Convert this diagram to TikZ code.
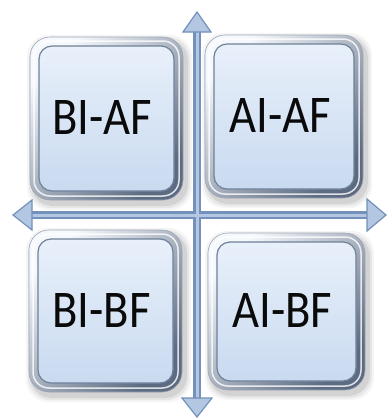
\documentclass[tikz,border=0pt]{standalone}
\usepackage{fontspec}
\setmainfont{Carlito}
\usetikzlibrary{calc}
\definecolor{axedge}{HTML}{7391BB}
\definecolor{axmid}{HTML}{B3C7E2}
\definecolor{bezlight}{HTML}{F5F8FC}
\definecolor{bezdark}{HTML}{5C6B82}
\definecolor{facetop}{HTML}{E8F0FA}
\definecolor{facebot}{HTML}{C9DAF0}
\definecolor{faceedge}{HTML}{6F8199}
\definecolor{txt}{HTML}{0A0A0A}
\tikzset{
  lbl/.style={text=txt, font=\fontsize{53}{53}\selectfont, inner sep=0pt},
  bezel/.style={rounded corners=20pt, top color=bezlight, bottom color=bezdark, shading angle=45, draw=bezdark!60, line width=0.6pt},
  face/.style={rounded corners=13pt, top color=facetop, bottom color=facebot, draw=faceedge, line width=1.2pt},
  shaftout/.style={axedge, line width=8pt},
  shaftin/.style={axmid, line width=3pt},
  axhead/.style={fill=axmid, draw=axedge, line width=1.2pt, line join=miter}
}
\newcommand\quadbox[6]{%
  \foreach \s/\o in {6/0.04,4/0.06,2/0.08}{%
    \fill[black,opacity=\o,rounded corners=22pt] ({#2+3-\s},{#3+4-\s}) rectangle ({#4+3+\s},{#5+4+\s});
  }
  \shade[bezel] (#2,#3) rectangle (#4,#5);
  \draw[white, line width=1.5pt, rounded corners=16pt, opacity=0.8] ({#2+4},{#3+4}) rectangle ({#4-4},{#5-4});
  \shade[face] ({#2+9},{#3+9}) rectangle ({#4-9},{#5-9});
  \node[lbl] (#1) at ({(#2+#4)/2-4},{(#3+#5)/2-1}) {\scalebox{0.88}[1]{#6}};
}
\begin{document}
\begin{tikzpicture}[x=1pt,y=-1pt]
\useasboundingbox (0,0) rectangle (386,418);
\fill[white] (0,0) rectangle (386,418);
\quadbox{biaf}{30}{37}{183}{200}{BI-AF}
\quadbox{aiaf}{205}{35}{363}{198}{AI-AF}
\quadbox{bibf}{29}{230}{182}{392}{BI-BF}
\quadbox{aibf}{208}{233}{365}{390}{AI-BF}
% axes
\coordinate (ytop) at (197,32);
\coordinate (ybot) at (197,398);
\coordinate (xl) at (32,215);
\coordinate (xr) at (367,215);
\draw[shaftout] (ytop) -- (ybot);
\draw[shaftout] (xl) -- (xr);
\draw[shaftin] (ytop) -- (ybot);
\draw[shaftin] (xl) -- (xr);
\filldraw[axhead] (183,32) -- (197,12) -- (211,32) -- cycle;
\filldraw[axhead] (182,398) -- (197,417) -- (212,398) -- cycle;
\filldraw[axhead] (32,200) -- (13,215) -- (32,230) -- cycle;
\filldraw[axhead] (367,199) -- (386,215) -- (367,231) -- cycle;
\end{tikzpicture}
\end{document}
